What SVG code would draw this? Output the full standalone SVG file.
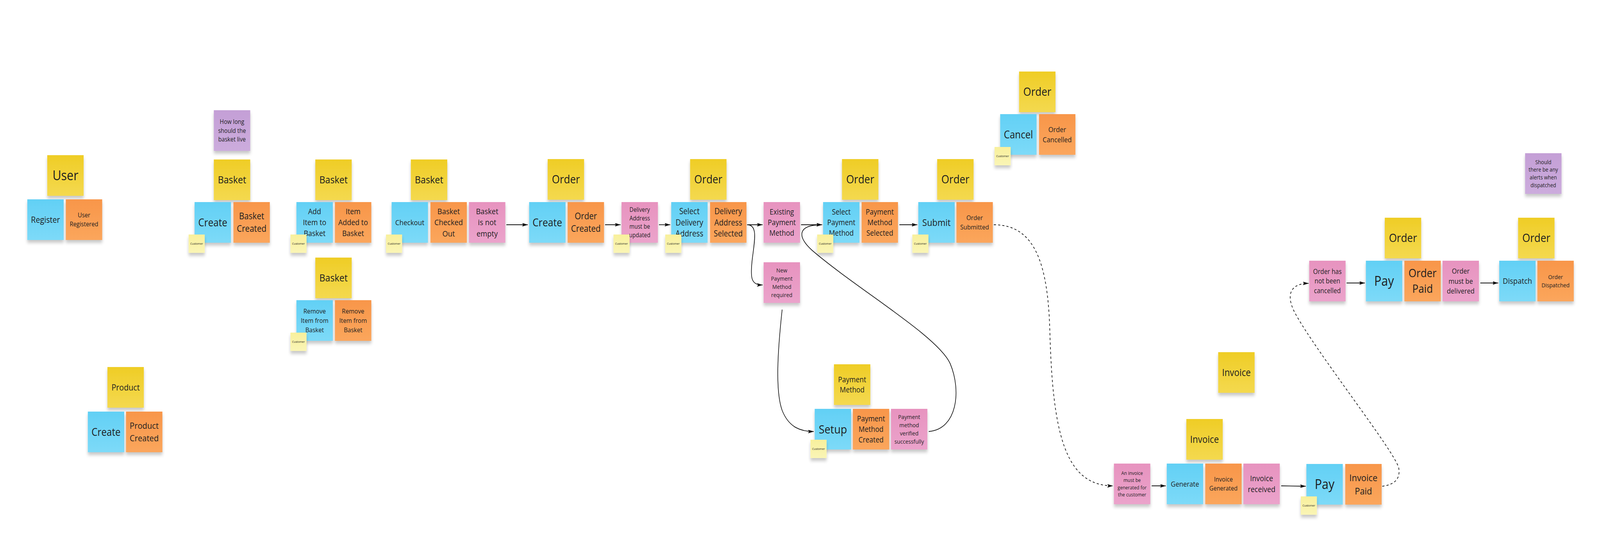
<svg xmlns="http://www.w3.org/2000/svg" width="4572" height="1402" viewBox="0 0 4572 1402" preserveAspectRatio="none">
<defs>
<style>
svg{width:100vw;height:100vh}
.t{font-family:"Open Sans","Noto Sans","DejaVu Sans",sans-serif;fill:#1d1d1f;text-anchor:middle}
.s{filter:url(#sh)}
.y{fill:url(#gy)}.b{fill:url(#gb)}.o{fill:url(#go)}.p{fill:url(#gp)}.v{fill:url(#gv)}.c{fill:url(#gc);filter:url(#sh)}
.ln{fill:none;stroke:#111;stroke-width:1.8}
.dl{fill:none;stroke:#111;stroke-width:1.8;stroke-dasharray:6 6}
</style>
<linearGradient id="gy" x1="0" y1="0" x2="0" y2="1"><stop offset="0" stop-color="#EFCD26"/><stop offset="1" stop-color="#F4D94F"/></linearGradient>
<linearGradient id="gb" x1="0" y1="0" x2="0" y2="1"><stop offset="0" stop-color="#62D0F5"/><stop offset="1" stop-color="#7DDAF8"/></linearGradient>
<linearGradient id="go" x1="0" y1="0" x2="0" y2="1"><stop offset="0" stop-color="#F8964A"/><stop offset="1" stop-color="#FBA65C"/></linearGradient>
<linearGradient id="gp" x1="0" y1="0" x2="0" y2="1"><stop offset="0" stop-color="#E793BF"/><stop offset="1" stop-color="#EBA3CB"/></linearGradient>
<linearGradient id="gv" x1="0" y1="0" x2="0" y2="1"><stop offset="0" stop-color="#C49FD6"/><stop offset="1" stop-color="#CCACDD"/></linearGradient>
<linearGradient id="gc" x1="0" y1="0" x2="0" y2="1"><stop offset="0" stop-color="#F8F09C"/><stop offset="1" stop-color="#FAF5B6"/></linearGradient>
<filter id="sh" x="-15%" y="-15%" width="130%" height="145%"><feDropShadow dx="0" dy="7" stdDeviation="4" flood-color="#000" flood-opacity="0.22"/></filter>
<marker id="ah" viewBox="0 0 17 9" refX="16" refY="4.5" markerWidth="17" markerHeight="9" markerUnits="userSpaceOnUse" orient="auto"><path d="M0,0 L17,4.5 L0,9 L3,4.5 z" fill="#111"/></marker>
</defs>
<rect width="4572" height="1402" fill="#ffffff"/>

<g id="connectors">
<path class="ln" marker-end="url(#ah)" d="M1447,575 L1508,575"/>
<path class="ln" marker-end="url(#ah)" d="M1729,575 L1773,575"/>
<path class="ln" marker-end="url(#ah)" d="M1883,575 L1915,575"/>
<path class="ln" marker-end="url(#ah)" d="M2135,575 L2179,575"/>
<path class="ln" marker-end="url(#ah)" d="M2135,575 C2165,575 2157,612 2150,660 C2143,712 2146,729 2179,729"/>
<path class="ln" marker-end="url(#ah)" d="M2289,575 L2349,575"/>
<path class="ln" marker-end="url(#ah)" d="M2654,1104 C2735,1098 2748,1000 2715,930 C2680,860 2450,740 2320,640 C2280,608 2275,575 2349,575"/>
<path class="ln" marker-end="url(#ah)" d="M2235,792 C2222,900 2215,1000 2235,1050 C2255,1095 2290,1104 2325,1104"/>
<path class="ln" marker-end="url(#ah)" d="M2570,575 L2621,575"/>
<path class="dl" marker-end="url(#ah)" d="M2840,575 C2960,575 2995,680 3000,850 C3008,1100 3040,1243 3180,1243"/>
<path class="ln" marker-end="url(#ah)" d="M3291,1243 L3331,1243"/>
<path class="ln" marker-end="url(#ah)" d="M3661,1243 L3731,1244"/>
<path class="dl" marker-end="url(#ah)" d="M3950,1244 C3985,1240 4002,1225 3997,1198 C3990,1160 3760,900 3700,800 C3672,752 3690,725 3739,725"/>
<path class="ln" marker-end="url(#ah)" d="M3848,724 L3900,724"/>
<path class="ln" marker-end="url(#ah)" d="M4230,724 L4281,724"/>
</g>

<!-- User -->
<g id="n-user" transform="translate(135,397)"><rect class="s y" width="104" height="104"/><text class="t" x="52" y="64.2" font-size="34">User</text></g>
<g id="n-register" transform="translate(78,510)"><rect class="s b" width="104" height="104"/><text class="t" x="52" y="59.9" font-size="22">Register</text></g>
<g id="n-user-registered" transform="translate(188,510)"><rect class="s o" width="104" height="104"/><text class="t" x="52" y="46.4" font-size="16.5"><tspan x="52">User</tspan><tspan x="52" dy="23.1">Registered</tspan></text></g>

<!-- Basket create -->
<g id="n-q-basket-live" transform="translate(611,282)"><rect class="s v" width="104" height="104"/><text class="t" x="52" y="35.4" font-size="16"><tspan x="52">How long</tspan><tspan x="52" dy="22.4">should the</tspan><tspan x="52" dy="22.4">basket live</tspan></text></g>
<g id="n-basket-1" transform="translate(611,408)"><rect class="s y" width="104" height="104"/><text class="t" x="52" y="61.4" font-size="26">Basket</text></g>
<g id="n-create-basket" transform="translate(556,517)"><rect class="s b" width="104" height="104"/><text class="t" x="52" y="61.7" font-size="27">Create</text></g>
<g id="n-basket-created" transform="translate(667,517)"><rect class="s o" width="104" height="104"/><text class="t" x="52" y="44.2" font-size="23"><tspan x="52">Basket</tspan><tspan x="52" dy="32.2">Created</tspan></text></g>
<g id="n-actor-1" transform="translate(539,600)"><rect class="c" width="46" height="47"/><text class="t" x="23" y="26.4" font-size="8">Customer</text></g>

<!-- Add item -->
<g id="n-basket-2" transform="translate(901,408)"><rect class="s y" width="104" height="104"/><text class="t" x="52" y="61.4" font-size="26">Basket</text></g>
<g id="n-add-item" transform="translate(847,517)"><rect class="s b" width="104" height="104"/><text class="t" x="52" y="31.2" font-size="20"><tspan x="52">Add</tspan><tspan x="52" dy="28">Item to</tspan><tspan x="52" dy="28">Basket</tspan></text></g>
<g id="n-item-added" transform="translate(957,517)"><rect class="s o" width="104" height="104"/><text class="t" x="52" y="31.2" font-size="20"><tspan x="52">Item</tspan><tspan x="52" dy="28">Added to</tspan><tspan x="52" dy="28">Basket</tspan></text></g>
<g id="n-actor-2" transform="translate(830,600)"><rect class="c" width="46" height="47"/><text class="t" x="23" y="26.4" font-size="8">Customer</text></g>

<!-- Remove item -->
<g id="n-basket-3" transform="translate(901,659)"><rect class="s y" width="104" height="104"/><text class="t" x="52" y="61.4" font-size="26">Basket</text></g>
<g id="n-remove-item" transform="translate(847,768)"><rect class="s b" width="104" height="104"/><text class="t" x="52" y="34.1" font-size="17"><tspan x="52">Remove</tspan><tspan x="52" dy="24">Item from</tspan><tspan x="52" dy="24">Basket</tspan></text></g>
<g id="n-item-removed" transform="translate(957,768)"><rect class="s o" width="104" height="104"/><text class="t" x="52" y="34.1" font-size="17"><tspan x="52">Remove</tspan><tspan x="52" dy="24">Item from</tspan><tspan x="52" dy="24">Basket</tspan></text></g>
<g id="n-actor-3" transform="translate(830,851)"><rect class="c" width="46" height="47"/><text class="t" x="23" y="26.4" font-size="8">Customer</text></g>

<!-- Product -->
<g id="n-product" transform="translate(307,939)"><rect class="s y" width="104" height="104"/><text class="t" x="52" y="59.9" font-size="22">Product</text></g>
<g id="n-create-product" transform="translate(251,1053)"><rect class="s b" width="104" height="104"/><text class="t" x="52" y="61.7" font-size="27">Create</text></g>
<g id="n-product-created" transform="translate(360,1053)"><rect class="s o" width="104" height="104"/><text class="t" x="52" y="44.4" font-size="22.5"><tspan x="52">Product</tspan><tspan x="52" dy="31.5">Created</tspan></text></g>

<!-- Checkout -->
<g id="n-basket-4" transform="translate(1174,408)"><rect class="s y" width="104" height="104"/><text class="t" x="52" y="61.4" font-size="26">Basket</text></g>
<g id="n-checkout" transform="translate(1119,517)"><rect class="s b" width="104" height="104"/><text class="t" x="52" y="58.8" font-size="19">Checkout</text></g>
<g id="n-basket-checked-out" transform="translate(1230,517)"><rect class="s o" width="104" height="104"/><text class="t" x="52" y="30.9" font-size="20.5"><tspan x="52">Basket</tspan><tspan x="52" dy="28.5">Checked</tspan><tspan x="52" dy="28.5">Out</tspan></text></g>
<g id="n-basket-not-empty" transform="translate(1340,517)"><rect class="s p" width="104" height="104"/><text class="t" x="52" y="30.9" font-size="20.5"><tspan x="52">Basket</tspan><tspan x="52" dy="28.5">is not</tspan><tspan x="52" dy="28.5">empty</tspan></text></g>
<g id="n-actor-4" transform="translate(1103,600)"><rect class="c" width="46" height="47"/><text class="t" x="23" y="26.4" font-size="8">Customer</text></g>

<!-- Create order -->
<g id="n-order-1" transform="translate(1565,407)"><rect class="s y" width="104" height="104"/><text class="t" x="52" y="62.4" font-size="29">Order</text></g>
<g id="n-create-order" transform="translate(1512,517)"><rect class="s b" width="104" height="104"/><text class="t" x="52" y="61.9" font-size="27.5">Create</text></g>
<g id="n-order-created" transform="translate(1622,517)"><rect class="s o" width="104" height="104"/><text class="t" x="52" y="44.2" font-size="23"><tspan x="52">Order</tspan><tspan x="52" dy="32.2">Created</tspan></text></g>
<g id="n-delivery-must-update" transform="translate(1776,517)"><rect class="s p" width="104" height="104"/><text class="t" x="52" y="25.3" font-size="15.5"><tspan x="52">Delivery</tspan><tspan x="52" dy="21.5">Address</tspan><tspan x="52" dy="21.5">must be</tspan><tspan x="52" dy="21.5">updated</tspan></text></g>
<g id="n-actor-5" transform="translate(1753,600)"><rect class="c" width="46" height="47"/><text class="t" x="23" y="26.4" font-size="8">Customer</text></g>

<!-- Select delivery -->
<g id="n-order-2" transform="translate(1972,407)"><rect class="s y" width="104" height="104"/><text class="t" x="52" y="62.4" font-size="29">Order</text></g>
<g id="n-select-delivery" transform="translate(1918,517)"><rect class="s b" width="104" height="104"/><text class="t" x="52" y="31.1" font-size="21"><tspan x="52">Select</tspan><tspan x="52" dy="28.5">Delivery</tspan><tspan x="52" dy="28.5">Address</tspan></text></g>
<g id="n-delivery-selected" transform="translate(2029,517)"><rect class="s o" width="104" height="104"/><text class="t" x="52" y="31.1" font-size="21"><tspan x="52">Delivery</tspan><tspan x="52" dy="28.5">Address</tspan><tspan x="52" dy="28.5">Selected</tspan></text></g>
<g id="n-actor-6" transform="translate(1901,600)"><rect class="c" width="46" height="47"/><text class="t" x="23" y="26.4" font-size="8">Customer</text></g>

<!-- Payment -->
<g id="n-existing-payment" transform="translate(2182,517)"><rect class="s p" width="104" height="104"/><text class="t" x="52" y="32" font-size="19.5"><tspan x="52">Existing</tspan><tspan x="52" dy="27">Payment</tspan><tspan x="52" dy="27">Method</tspan></text></g>
<g id="n-new-payment-required" transform="translate(2182,671)"><rect class="s p" width="104" height="104"/><text class="t" x="52" y="25.6" font-size="15"><tspan x="52">New</tspan><tspan x="52" dy="21.2">Payment</tspan><tspan x="52" dy="21.2">Method</tspan><tspan x="52" dy="21.2">required</tspan></text></g>
<g id="n-order-3" transform="translate(2406,407)"><rect class="s y" width="104" height="104"/><text class="t" x="52" y="62.4" font-size="29">Order</text></g>
<g id="n-select-payment" transform="translate(2352,517)"><rect class="s b" width="104" height="104"/><text class="t" x="52" y="32" font-size="19.5"><tspan x="52">Select</tspan><tspan x="52" dy="27">Payment</tspan><tspan x="52" dy="27">Method</tspan></text></g>
<g id="n-payment-selected" transform="translate(2462,517)"><rect class="s o" width="104" height="104"/><text class="t" x="52" y="32" font-size="19.5"><tspan x="52">Payment</tspan><tspan x="52" dy="27">Method</tspan><tspan x="52" dy="27">Selected</tspan></text></g>
<g id="n-actor-7" transform="translate(2335,600)"><rect class="c" width="46" height="47"/><text class="t" x="23" y="26.4" font-size="8">Customer</text></g>

<!-- Submit -->
<g id="n-order-4" transform="translate(2678,407)"><rect class="s y" width="104" height="104"/><text class="t" x="52" y="62.4" font-size="29">Order</text></g>
<g id="n-submit" transform="translate(2624,517)"><rect class="s b" width="104" height="104"/><text class="t" x="52" y="60.8" font-size="24.5">Submit</text></g>
<g id="n-order-submitted" transform="translate(2733,517)"><rect class="s o" width="104" height="104"/><text class="t" x="52" y="46.1" font-size="17"><tspan x="52">Order</tspan><tspan x="52" dy="24">Submitted</tspan></text></g>
<g id="n-actor-8" transform="translate(2607,600)"><rect class="c" width="46" height="47"/><text class="t" x="23" y="26.4" font-size="8">Customer</text></g>

<!-- Cancel -->
<g id="n-order-5" transform="translate(2912,183)"><rect class="s y" width="104" height="104"/><text class="t" x="52" y="62.4" font-size="29">Order</text></g>
<g id="n-cancel" transform="translate(2858,292)"><rect class="s b" width="104" height="104"/><text class="t" x="52" y="61.7" font-size="27">Cancel</text></g>
<g id="n-order-cancelled" transform="translate(2969,292)"><rect class="s o" width="104" height="104"/><text class="t" x="52" y="45.6" font-size="18.4"><tspan x="52">Order</tspan><tspan x="52" dy="26">Cancelled</tspan></text></g>
<g id="n-actor-9" transform="translate(2842,376)"><rect class="c" width="46" height="47"/><text class="t" x="23" y="26.4" font-size="8">Customer</text></g>

<!-- Setup -->
<g id="n-payment-method" transform="translate(2383,932)"><rect class="s y" width="104" height="104"/><text class="t" x="52" y="45.75" font-size="19.5"><tspan x="52">Payment</tspan><tspan x="52" dy="26.5">Method</tspan></text></g>
<g id="n-setup" transform="translate(2328,1046)"><rect class="s b" width="104" height="104"/><text class="t" x="52" y="62.8" font-size="30">Setup</text></g>
<g id="n-payment-method-created" transform="translate(2437,1046)"><rect class="s o" width="104" height="104"/><text class="t" x="52" y="32" font-size="19.5"><tspan x="52">Payment</tspan><tspan x="52" dy="27">Method</tspan><tspan x="52" dy="27">Created</tspan></text></g>
<g id="n-payment-verified" transform="translate(2546,1046)"><rect class="s p" width="104" height="104"/><text class="t" x="52" y="25.6" font-size="15.3"><tspan x="52">Payment</tspan><tspan x="52" dy="21.3">method</tspan><tspan x="52" dy="21.3">verified</tspan><tspan x="52" dy="21.3">successfully</tspan></text></g>
<g id="n-actor-10" transform="translate(2316,1125)"><rect class="c" width="46" height="47"/><text class="t" x="23" y="26.4" font-size="8">Customer</text></g>

<!-- Invoice -->
<g id="n-invoice-1" transform="translate(3481,901)"><rect class="s y" width="104" height="104"/><text class="t" x="52" y="61" font-size="25">Invoice</text></g>
<g id="n-invoice-2" transform="translate(3390,1072)"><rect class="s y" width="104" height="104"/><text class="t" x="52" y="61" font-size="25">Invoice</text></g>
<g id="n-invoice-must-generate" transform="translate(3183,1186)"><rect class="s p" width="104" height="104"/><text class="t" x="52" y="29.1" font-size="13"><tspan x="52">An invoice</tspan><tspan x="52" dy="18.4">must be</tspan><tspan x="52" dy="18.4">generated for</tspan><tspan x="52" dy="18.4">the customer</tspan></text></g>
<g id="n-generate" transform="translate(3334,1186)"><rect class="s b" width="104" height="104"/><text class="t" x="52" y="58.7" font-size="18.6">Generate</text></g>
<g id="n-invoice-generated" transform="translate(3444,1186)"><rect class="s o" width="104" height="104"/><text class="t" x="52" y="46.4" font-size="16.3"><tspan x="52">Invoice</tspan><tspan x="52" dy="23">Generated</tspan></text></g>
<g id="n-invoice-received" transform="translate(3553,1186)"><rect class="s p" width="104" height="104"/><text class="t" x="52" y="45.2" font-size="20"><tspan x="52">Invoice</tspan><tspan x="52" dy="28">received</tspan></text></g>
<g id="n-pay-invoice" transform="translate(3733,1187)"><rect class="s b" width="104" height="104"/><text class="t" x="52" y="64.2" font-size="34">Pay</text></g>
<g id="n-invoice-paid" transform="translate(3844,1187)"><rect class="s o" width="104" height="104"/><text class="t" x="52" y="43.8" font-size="24.5"><tspan x="52">Invoice</tspan><tspan x="52" dy="34">Paid</tspan></text></g>
<g id="n-actor-11" transform="translate(3717,1270)"><rect class="c" width="46" height="47"/><text class="t" x="23" y="26.4" font-size="8">Customer</text></g>

<!-- Order pay / dispatch -->
<g id="n-q-alerts" transform="translate(4358,392)"><rect class="s v" width="104" height="104"/><text class="t" x="52" y="27.6" font-size="14.3"><tspan x="52">Should</tspan><tspan x="52" dy="19.7">there be any</tspan><tspan x="52" dy="19.7">alerts when</tspan><tspan x="52" dy="19.7">dispatched</tspan></text></g>
<g id="n-order-6" transform="translate(3957,557)"><rect class="s y" width="104" height="104"/><text class="t" x="52" y="62.4" font-size="29">Order</text></g>
<g id="n-order-not-cancelled" transform="translate(3741,667)"><rect class="s p" width="104" height="104"/><text class="t" x="52" y="33.8" font-size="17.5"><tspan x="52">Order has</tspan><tspan x="52" dy="24.5">not been</tspan><tspan x="52" dy="24.5">cancelled</tspan></text></g>
<g id="n-pay-order" transform="translate(3903,667)"><rect class="s b" width="104" height="104"/><text class="t" x="52" y="64.2" font-size="34">Pay</text></g>
<g id="n-order-paid" transform="translate(4013,667)"><rect class="s o" width="104" height="104"/><text class="t" x="52" y="42.4" font-size="29"><tspan x="52">Order</tspan><tspan x="52" dy="40">Paid</tspan></text></g>
<g id="n-order-must-deliver" transform="translate(4122,667)"><rect class="s p" width="104" height="104"/><text class="t" x="52" y="33.1" font-size="18.3"><tspan x="52">Order</tspan><tspan x="52" dy="25.5">must be</tspan><tspan x="52" dy="25.5">delivered</tspan></text></g>
<g id="n-order-7" transform="translate(4338,557)"><rect class="s y" width="104" height="104"/><text class="t" x="52" y="62.4" font-size="29">Order</text></g>
<g id="n-dispatch" transform="translate(4284,667)"><rect class="s b" width="104" height="104"/><text class="t" x="52" y="59.4" font-size="20.6">Dispatch</text></g>
<g id="n-order-dispatched" transform="translate(4393,667)"><rect class="s o" width="104" height="104"/><text class="t" x="52" y="46.9" font-size="15.3"><tspan x="52">Order</tspan><tspan x="52" dy="21.3">Dispatched</tspan></text></g>
</svg>
